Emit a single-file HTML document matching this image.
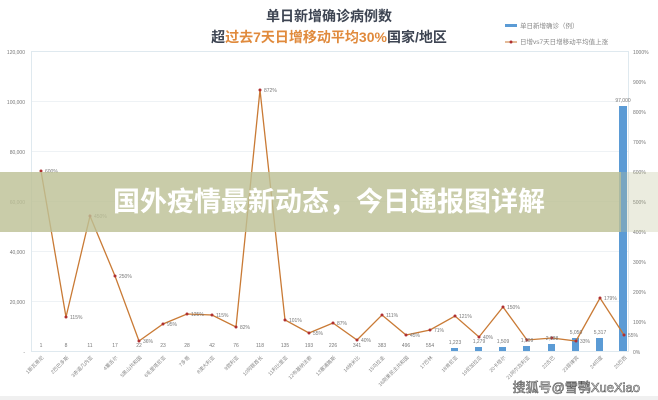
<!DOCTYPE html>
<html><head><meta charset="utf-8"><style>
html,body{margin:0;padding:0;background:#fff;width:658px;height:400px;overflow:hidden}
svg{display:block}
text{font-family:"Liberation Sans","Noto Sans CJK SC",sans-serif}
</style></head><body>
<svg width="658" height="400" viewBox="0 0 658 400" xmlns="http://www.w3.org/2000/svg">
<rect width="658" height="400" fill="#fff"/>
<text x="329" y="21" text-anchor="middle" font-size="14" font-weight="bold" fill="#3d4452">单日新增确诊病例数</text>
<text x="329" y="42" text-anchor="middle" font-size="14" font-weight="bold" fill="#3d4452">超<tspan fill="#e08a3c">过去7天日增移动平均30%</tspan>国家/地区</text>
<rect x="505" y="24" width="12" height="3" fill="#5b9bd5"/>
<text x="520" y="28" font-size="6.5" fill="#888">单日新增确诊（例）</text>
<line x1="505" y1="42" x2="517" y2="42" stroke="#c97a35" stroke-width="1"/>
<circle cx="511" cy="42" r="1.5" fill="#b03030"/>
<text x="520" y="44" font-size="6.5" fill="#888">日增vs7天日增移动平均值上涨</text>
<g stroke="#eef2f5" stroke-width="1">
<line x1="31" y1="101.5" x2="628" y2="101.5"/><line x1="31" y1="151.5" x2="628" y2="151.5"/>
<line x1="31" y1="201.5" x2="628" y2="201.5"/><line x1="31" y1="251.5" x2="628" y2="251.5"/>
<line x1="31" y1="301.5" x2="628" y2="301.5"/>
</g>
<rect x="31.5" y="51.5" width="597" height="300" fill="none" stroke="#dfe9ef"/>
<g font-size="5" fill="#777" text-anchor="end">
<text x="25" y="54">120,000</text><text x="25" y="104">100,000</text><text x="25" y="154">80,000</text>
<text x="25" y="204">60,000</text><text x="25" y="254">40,000</text><text x="25" y="304">20,000</text><text x="25" y="354">-</text>
</g>
<g font-size="5" fill="#777">
<text x="633" y="54">1000%</text><text x="633" y="84">900%</text><text x="633" y="114">800%</text><text x="633" y="144">700%</text>
<text x="633" y="174">600%</text><text x="633" y="204">500%</text><text x="633" y="234">400%</text><text x="633" y="264">300%</text>
<text x="633" y="294">200%</text><text x="633" y="324">100%</text><text x="633" y="354">0%</text>
</g>
<g fill="#5b9bd5">
<rect x="451" y="348" width="7" height="3"/><rect x="475" y="347" width="7" height="4"/>
<rect x="499" y="347" width="7" height="4"/><rect x="523" y="346" width="7" height="5"/>
<rect x="548" y="344" width="7" height="7"/><rect x="572" y="338" width="7" height="13"/>
<rect x="596" y="338" width="7" height="13"/><rect x="619" y="106" width="8" height="245"/>
</g>
<polyline fill="none" stroke="#c97a35" stroke-width="1.3" points="41,171 66,317 90,216 115,276 139,341 163,324 187,314 212,315 236,327 260,90 285,320 309,333 333,323 357,340 382,315 406,335 430,330 455,316 479,337 503,307 527,340 552,338 576,341 600,298 624,335"/>
<g fill="#b03030">
<circle cx="41" cy="171" r="1.5"/><circle cx="66" cy="317" r="1.5"/><circle cx="90" cy="216" r="1.5"/><circle cx="115" cy="276" r="1.5"/><circle cx="139" cy="341" r="1.5"/><circle cx="163" cy="324" r="1.5"/><circle cx="187" cy="314" r="1.5"/><circle cx="212" cy="315" r="1.5"/><circle cx="236" cy="327" r="1.5"/><circle cx="260" cy="90" r="1.5"/><circle cx="285" cy="320" r="1.5"/><circle cx="309" cy="333" r="1.5"/><circle cx="333" cy="323" r="1.5"/><circle cx="357" cy="340" r="1.5"/><circle cx="382" cy="315" r="1.5"/><circle cx="406" cy="335" r="1.5"/><circle cx="430" cy="330" r="1.5"/><circle cx="455" cy="316" r="1.5"/><circle cx="479" cy="337" r="1.5"/><circle cx="503" cy="307" r="1.5"/><circle cx="527" cy="340" r="1.5"/><circle cx="552" cy="338" r="1.5"/><circle cx="576" cy="341" r="1.5"/><circle cx="600" cy="298" r="1.5"/><circle cx="624" cy="335" r="1.5"/>
</g>
<g font-size="5" fill="#777">
<text x="45" y="173">600%</text><text x="70" y="319">115%</text><text x="94" y="218">450%</text><text x="119" y="278">250%</text><text x="143" y="343">36%</text><text x="167" y="326">95%</text><text x="191" y="316">125%</text><text x="216" y="317">115%</text><text x="240" y="329">82%</text><text x="264" y="92">872%</text><text x="289" y="322">101%</text><text x="313" y="335">55%</text><text x="337" y="325">87%</text><text x="361" y="342">40%</text><text x="386" y="317">111%</text><text x="410" y="337">45%</text><text x="434" y="332">71%</text><text x="459" y="318">121%</text><text x="483" y="339">40%</text><text x="507" y="309">150%</text><text x="604" y="300">179%</text><text x="628" y="337">55%</text><text x="580" y="343">33%</text>
</g>
<g font-size="5" fill="#777" text-anchor="middle">
<text x="41" y="347">1</text><text x="66" y="347">8</text><text x="90" y="347">11</text><text x="115" y="347">17</text><text x="139" y="347">22</text><text x="163" y="347">23</text><text x="187" y="347">28</text><text x="212" y="347">42</text><text x="236" y="347">76</text><text x="260" y="347">118</text><text x="285" y="347">135</text><text x="309" y="347">193</text><text x="333" y="347">226</text><text x="357" y="347">341</text><text x="382" y="347">383</text><text x="406" y="347">496</text><text x="430" y="347">554</text><text x="455" y="344">1,223</text><text x="479" y="343">1,279</text><text x="503" y="343">1,509</text><text x="527" y="342">1,909</text><text x="552" y="340">2,688</text><text x="576" y="334">5,050</text><text x="600" y="334">5,317</text><text x="623" y="102">97,000</text>
</g>
<g font-size="5" fill="#888" text-anchor="end">
<text transform="translate(44,358) rotate(-45)">1斯瓦蒂尼</text><text transform="translate(69,358) rotate(-45)">2巴巴多斯</text><text transform="translate(93,358) rotate(-45)">3赤道几内亚</text><text transform="translate(118,358) rotate(-45)">4塞舌尔</text><text transform="translate(142,358) rotate(-45)">5黑山共和国</text><text transform="translate(166,358) rotate(-45)">6毛里塔尼亚</text><text transform="translate(190,358) rotate(-45)">7多哥</text><text transform="translate(215,358) rotate(-45)">8澳大利亚</text><text transform="translate(239,358) rotate(-45)">9叙利亚</text><text transform="translate(263,358) rotate(-45)">10阿联酋长</text><text transform="translate(288,358) rotate(-45)">11利比里亚</text><text transform="translate(312,358) rotate(-45)">12布基纳法索</text><text transform="translate(336,358) rotate(-45)">13塞浦路斯</text><text transform="translate(360,358) rotate(-45)">14纳米比</text><text transform="translate(385,358) rotate(-45)">15乌拉圭</text><text transform="translate(409,358) rotate(-45)">16刚果民主共和国</text><text transform="translate(433,358) rotate(-45)">17巴林</text><text transform="translate(458,358) rotate(-45)">18肯尼亚</text><text transform="translate(482,358) rotate(-45)">19尼加拉瓜</text><text transform="translate(506,358) rotate(-45)">20卡塔尔</text><text transform="translate(530,358) rotate(-45)">21阿尔及利亚</text><text transform="translate(555,358) rotate(-45)">22古巴</text><text transform="translate(579,358) rotate(-45)">23菲律宾</text><text transform="translate(603,358) rotate(-45)">24印度</text><text transform="translate(627,358) rotate(-45)">25巴西</text>
</g>
<rect x="0" y="172" width="621" height="60" fill="#bdc196" fill-opacity="0.82"/>
<rect x="621" y="172" width="37" height="60" fill="#bdc196" fill-opacity="0.3"/>
<text x="329" y="211" text-anchor="middle" font-size="27" font-weight="bold" fill="#fff">国外疫情最新动态，今日通报图详解</text>
<text x="640" y="392" text-anchor="end" font-size="13" fill="#fff" stroke="#555" stroke-width="0.6">搜狐号@雪鹗XueXiao</text>
<rect x="0" y="396" width="658" height="4" fill="#f0f0f0"/>
</svg>
</body></html>
